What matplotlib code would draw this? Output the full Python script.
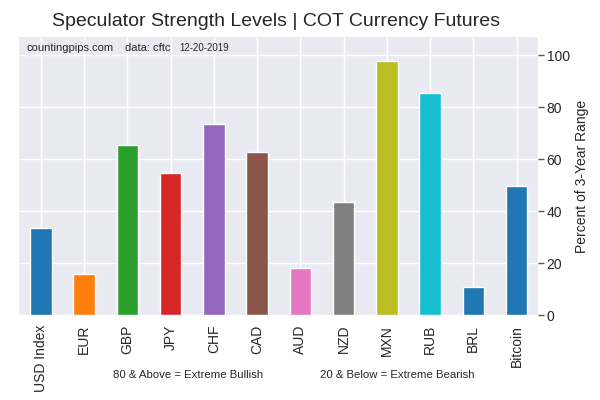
import matplotlib
matplotlib.use("Agg")
import matplotlib.pyplot as plt
import seaborn as sns

categories = ["USD Index", "EUR", "GBP", "JPY", "CHF", "CAD", "AUD", "NZD", "MXN", "RUB", "BRL", "Bitcoin"]
values = [33.6, 15.8, 65.6, 54.8, 73.7, 62.9, 18.1, 43.6, 97.7, 85.7, 10.8, 49.8]
colors = ["#1f77b4", "#ff7f0e", "#2ca02c", "#d62728", "#9467bd", "#8c564b",
          "#e377c2", "#7f7f7f", "#bcbd22", "#17becf", "#1f77b4", "#1f77b4"]

sns.set_style("darkgrid")
plt.rcParams['font.family'] = ['Liberation Sans', 'DejaVu Sans']

fig = plt.figure(figsize=(6, 4), dpi=100)
ax = fig.add_axes([0.032, 0.212, 0.865, 0.695])
ax.set_facecolor('#EAEAF2')
x = list(range(len(categories)))
ax.bar(x, values, width=0.5, color=colors)
ax.set_xlim(-0.5, len(categories) - 0.5)
ax.set_ylim(0, 107)
ax.set_xticks(x)
ax.set_xticklabels(categories, rotation=90, fontsize=10)
ax.yaxis.tick_right()
ax.yaxis.set_label_position("right")
ax.set_yticks([0, 20, 40, 60, 80, 100])
ax.tick_params(axis='y', which='both', right=True, length=4, width=1, color='#555555', labelsize=10, pad=2)
ax.set_ylabel("Percent of 3-Year Range", fontsize=10, labelpad=4)
ax.grid(True, color='white', linewidth=1)
ax.set_axisbelow(True)
for s in ax.spines.values():
    s.set_visible(False)

fig.text(0.46, 0.945, "Speculator Strength Levels | COT Currency Futures", ha='center', va='center', fontsize=14)
ax.text(0.0135, 0.962, "countingpips.com", transform=ax.transAxes, fontsize=8, va='center', ha='left')
ax.text(0.203, 0.962, "data: cftc", transform=ax.transAxes, fontsize=8, va='center', ha='left')
ax.text(0.309, 0.962, "12-20-2019", transform=ax.transAxes, fontsize=7, va='center', ha='left')
fig.text(0.314, 0.063, "80 & Above = Extreme Bullish", ha='center', va='center', fontsize=8.2)
fig.text(0.662, 0.063, "20 & Below = Extreme Bearish", ha='center', va='center', fontsize=8.2)

fig.savefig("out.png", dpi=100)
